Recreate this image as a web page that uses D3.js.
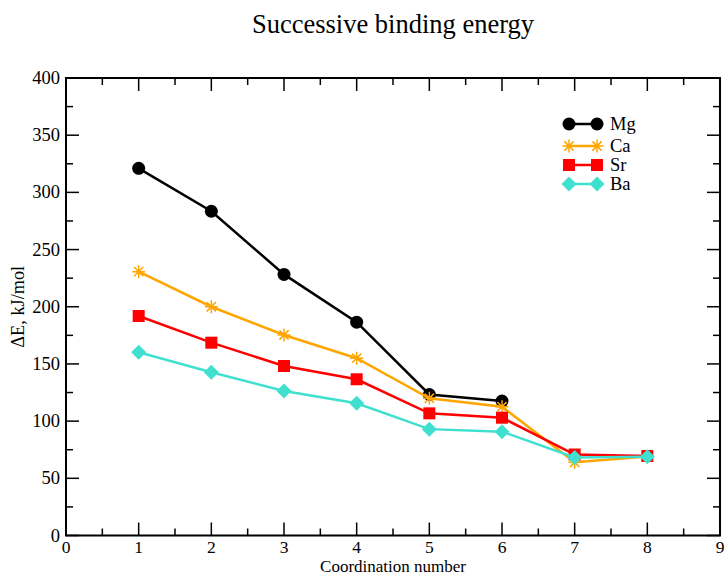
<!DOCTYPE html>
<html><head><meta charset="utf-8">
<script src="https://cdn.jsdelivr.net/npm/d3@7"></script>
<style>body{margin:0;background:#fff}svg{display:block}text{font-family:"Liberation Serif","Times New Roman",serif;fill:#000}</style>
</head><body>
<svg id="c" width="724" height="576"></svg>
<script>
const coordination = [1,2,3,4,5,6,7,8];
const mgValues = [321,283.5,228.3,186.5,123.3,117.5,null,null];
const caValues = [230.7,200,175.3,155,120,112.6,64,69];
const srValues = [191.9,168.6,148.2,136.6,106.8,103,70.8,69.5];
const baValues = [160.2,142.7,126.3,115.6,93,90.8,68.2,68.8];
const seriesNames = ["Mg","Ca","Sr","Ba"];
const xTicks = [0,1,2,3,4,5,6,7,8,9];
const yTicks = [0,50,100,150,200,250,300,350,400];

const series = [
  {name:"Mg", values:mgValues, color:"#000000", marker:"circle"},
  {name:"Ca", values:caValues, color:"#FFA500", marker:"star"},
  {name:"Sr", values:srValues, color:"#FF0000", marker:"square"},
  {name:"Ba", values:baValues, color:"#40E0D0", marker:"diamond"}
];

const svg = d3.select("#c");
const L=66, R=720, T=78, B=535.5;
const x = d3.scaleLinear().domain([0,9]).range([L,R]);
const y = d3.scaleLinear().domain([0,400]).range([B,T]);

svg.append("text").attr("x",(L+R)/2).attr("y",33).attr("text-anchor","middle")
  .attr("font-size",26.5).text("Successive binding energy");

const g = svg.append("g").attr("stroke","#000").attr("stroke-width",1.5);
const xMinor = d3.range(0.5,9,1);
const yMinor = d3.range(25,400,50);
xTicks.forEach(v=>{
  g.append("line").attr("x1",x(v)).attr("x2",x(v)).attr("y1",B).attr("y2",B-13);
  g.append("line").attr("x1",x(v)).attr("x2",x(v)).attr("y1",T).attr("y2",T+13);
});
xMinor.forEach(v=>{
  g.append("line").attr("x1",x(v)).attr("x2",x(v)).attr("y1",B).attr("y2",B-7);
  g.append("line").attr("x1",x(v)).attr("x2",x(v)).attr("y1",T).attr("y2",T+7);
});
yTicks.forEach(v=>{
  g.append("line").attr("y1",y(v)).attr("y2",y(v)).attr("x1",L).attr("x2",L+13);
  g.append("line").attr("y1",y(v)).attr("y2",y(v)).attr("x1",R).attr("x2",R-13);
});
yMinor.forEach(v=>{
  g.append("line").attr("y1",y(v)).attr("y2",y(v)).attr("x1",L).attr("x2",L+7);
  g.append("line").attr("y1",y(v)).attr("y2",y(v)).attr("x1",R).attr("x2",R-7);
});
svg.append("rect").attr("x",L).attr("y",T).attr("width",R-L).attr("height",B-T)
  .attr("fill","none").attr("stroke","#000").attr("stroke-width",2);

xTicks.forEach(v=>{
  svg.append("text").attr("x",x(v)).attr("y",B+17.5).attr("text-anchor","middle")
    .attr("font-size",17.5).text(v);
});
yTicks.forEach(v=>{
  svg.append("text").attr("x",L-6).attr("y",y(v)+6).attr("text-anchor","end")
    .attr("font-size",18.5).text(v);
});

svg.append("text").attr("x",(L+R)/2).attr("y",572.3).attr("text-anchor","middle")
  .attr("font-size",17).text("Coordination number");
svg.append("text").attr("transform",`translate(24,${(T+B)/2}) rotate(-90)`)
  .attr("text-anchor","middle").attr("font-size",18.3).text("ΔE, kJ/mol");

function drawMarker(sel, type, cx, cy, color){
  if(type==="circle"){
    sel.append("circle").attr("cx",cx).attr("cy",cy).attr("r",6.5).attr("fill",color);
  } else if(type==="square"){
    sel.append("rect").attr("x",cx-6).attr("y",cy-6).attr("width",12).attr("height",12).attr("fill",color);
  } else if(type==="diamond"){
    sel.append("path").attr("d",`M${cx},${cy-7.5}L${cx+7.5},${cy}L${cx},${cy+7.5}L${cx-7.5},${cy}Z`).attr("fill",color);
  } else if(type==="star"){
    const r=6.5, d=r*0.707;
    sel.append("path").attr("d",`M${cx-r},${cy}L${cx+r},${cy}M${cx},${cy-r}L${cx},${cy+r}M${cx-d},${cy-d}L${cx+d},${cy+d}M${cx-d},${cy+d}L${cx+d},${cy-d}`)
      .attr("stroke",color).attr("stroke-width",1.5).attr("fill","none");
  }
}

const line = d3.line().defined(d=>d.v!=null).x(d=>x(d.x)).y(d=>y(d.v));
series.forEach(s=>{
  const pts = coordination.map((c,i)=>({x:c, v:s.values[i]}));
  svg.append("path").datum(pts).attr("d",line).attr("fill","none")
    .attr("stroke",s.color).attr("stroke-width",2.5);
  const mg = svg.append("g");
  pts.filter(p=>p.v!=null).forEach(p=>drawMarker(mg,s.marker,x(p.x),y(p.v),s.color));
});

const legY = [124,146,165,184];
series.forEach((s,i)=>{
  const yy = legY[i];
  svg.append("line").attr("x1",569).attr("x2",597).attr("y1",yy).attr("y2",yy)
    .attr("stroke",s.color).attr("stroke-width",2.5);
  drawMarker(svg,s.marker,569,yy,s.color);
  drawMarker(svg,s.marker,597,yy,s.color);
  svg.append("text").attr("x",610).attr("y",yy+6).attr("font-size",18.5).text(seriesNames[i]);
});
</script>
</body></html>
